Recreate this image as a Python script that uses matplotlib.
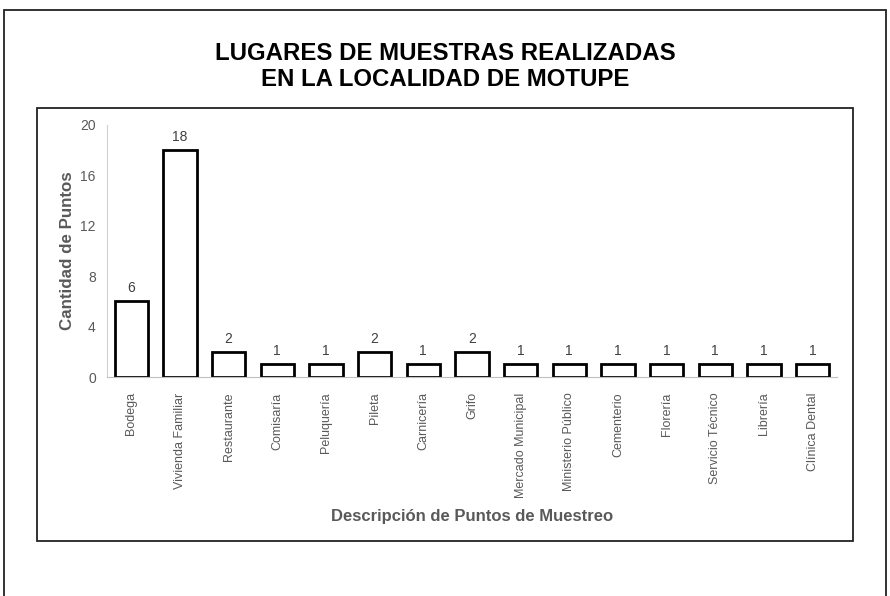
import matplotlib
matplotlib.use("Agg")
import matplotlib.pyplot as plt
from matplotlib.patches import Rectangle

plt.rcParams['font.family'] = ['Liberation Sans', 'DejaVu Sans']

lugares = ['Bodega', 'Vivienda Familiar', 'Restaurante', 'Comisaría', 'Peluquería',
           'Pileta', 'Carnicería', 'Grifo', 'Mercado Municipal', 'Ministerio Público',
           'Cementerio', 'Florería', 'Servicio Técnico', 'Librería', 'Clínica Dental']
cantidad = [6, 18, 2, 1, 1, 2, 1, 2, 1, 1, 1, 1, 1, 1, 1]
yticks = [0, 4, 8, 12, 16, 20]

gris = '#595959'

fig = plt.figure(figsize=(8.9, 5.96), dpi=100)

# marco exterior y recuadro del grafico
fig.patches.append(Rectangle((0.004, -0.05), 0.991, 1.034, transform=fig.transFigure,
                             fill=False, edgecolor='#222222', lw=1.3))
fig.patches.append(Rectangle((0.0416, 0.0923), 0.9168, 0.7265, transform=fig.transFigure,
                             fill=False, edgecolor='#222222', lw=1.3))

fig.text(0.5, 0.889, 'LUGARES DE MUESTRAS REALIZADAS\nEN LA LOCALIDAD DE MOTUPE',
         ha='center', va='center', fontsize=17.3, fontweight='bold', linespacing=1.15)

ax = fig.add_axes([0.1202, 0.3674, 0.8202, 0.4229])
x = range(len(lugares))
bars = ax.bar(x, cantidad, width=0.68, facecolor='white', edgecolor='black', lw=2)
for xi, v in zip(x, cantidad):
    ax.text(xi, v + 0.5, str(v), ha='center', va='bottom', fontsize=10, color='#404040')

ax.set_xlim(-0.5, len(lugares) - 0.5)
ax.set_ylim(0, 20)
ax.set_yticks(yticks)
ax.set_xticks(list(x))
ax.set_xticklabels(lugares, rotation=90, fontsize=9, color=gris)
ax.tick_params(axis='y', length=0, labelsize=10, labelcolor=gris, pad=8)
ax.tick_params(axis='x', length=0, pad=11)
for s in ['top', 'right']:
    ax.spines[s].set_visible(False)
ax.spines['left'].set_color('#d0d0d0')
ax.spines['bottom'].set_color('#c0c0c0')

fig.text(0.076, 0.579, 'Cantidad de Puntos', rotation=90, ha='center', va='center',
         fontsize=12.2, fontweight='bold', color=gris)
fig.text(0.530, 0.134, 'Descripción de Puntos de Muestreo', ha='center', va='center',
         fontsize=12, fontweight='bold', color=gris)

fig.savefig('out.png', dpi=100)
